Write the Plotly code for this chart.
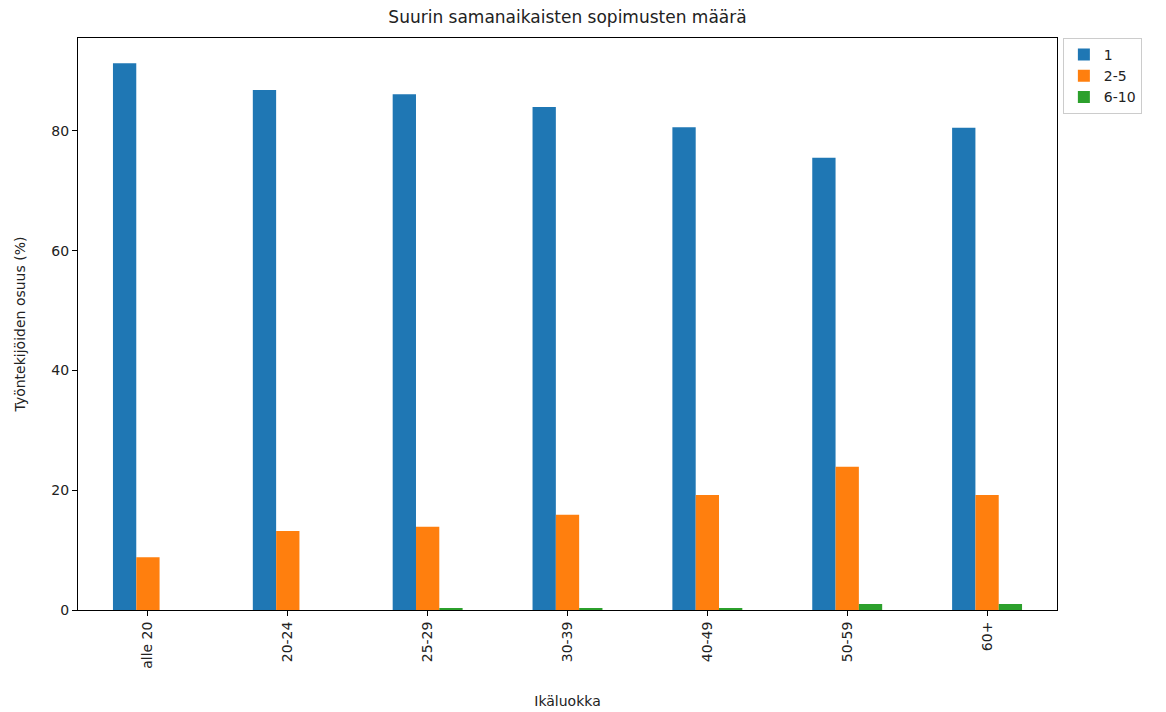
import plotly.graph_objects as go

age_groups = ["alle 20", "20-24", "25-29", "30-39", "40-49", "50-59", "60+"]
share_1 = [91.3, 86.8, 86.1, 84.0, 80.6, 75.5, 80.5]
share_2_5 = [8.8, 13.2, 13.9, 15.9, 19.2, 23.9, 19.2]
share_6_10 = [0.0, 0.0, 0.3, 0.3, 0.3, 1.0, 1.0]

series = [
    ("1", share_1, "#1f77b4"),
    ("2-5", share_2_5, "#ff7f0e"),
    ("6-10", share_6_10, "#2ca02c"),
]

fig = go.Figure()
for name, vals, color in series:
    fig.add_trace(go.Bar(
        x=age_groups, y=vals, name=name,
        marker=dict(color=color, line=dict(width=0)),
    ))

axis_common = dict(
    showline=True, linecolor="black", linewidth=1, mirror=True,
    ticks="outside", ticklen=5, tickcolor="black",
    showgrid=False, zeroline=False,
    tickfont=dict(size=14, color="#222"),
)

# page body has an 8px margin, so margins are shifted accordingly
fig.update_layout(
    width=1166, height=712,
    font=dict(family="DejaVu Sans", size=14, color="#222"),
    title=dict(text="Suurin samanaikaisten sopimusten määrä", x=0.5, xref="paper",
               y=0.995, yanchor="top", font=dict(size=17)),
    barmode="group", bargap=0.5, bargroupgap=0,
    plot_bgcolor="white", paper_bgcolor="white",
    margin=dict(l=70, r=117, t=30, b=110),
    legend=dict(x=1.006, y=1, xanchor="left", yanchor="top",
                bordercolor="#ccc", borderwidth=1, font=dict(size=14)),
    xaxis=dict(title=dict(text="Ikäluokka", standoff=28, font=dict(size=14)),
               tickangle=-90, range=[-0.5, 6.5], **axis_common),
    yaxis=dict(title=dict(text="Työntekijöiden osuus (%)", standoff=22, font=dict(size=14)),
               range=[0, 95.5], tickvals=[0, 20, 40, 60, 80], **axis_common),
)

fig.write_html("out.html")
